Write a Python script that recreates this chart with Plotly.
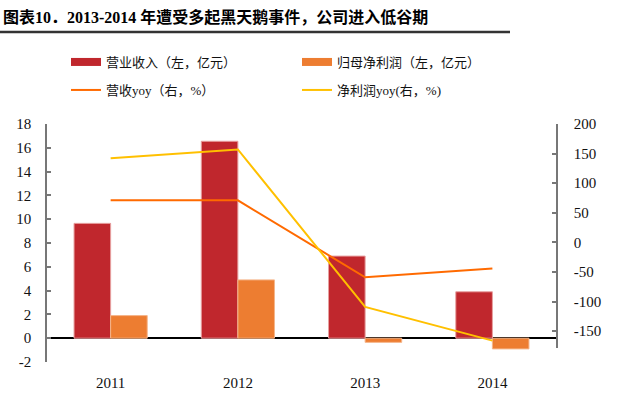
import plotly.graph_objects as go

years = ["2011", "2012", "2013", "2014"]
revenue = [9.65, 16.55, 6.9, 3.9]            # 营业收入 (亿元)
net_profit = [1.9, 4.9, -0.35, -0.9]         # 归母净利润 (亿元)
revenue_yoy = [71, 71, -59, -44]             # 营收yoy (%)
profit_yoy = [142, 157, -109, -166]          # 净利润yoy (%)
left_ticks = list(range(-2, 19, 2))
right_ticks = list(range(-150, 201, 50))

names = ["营业收入（左，亿元）", "归母净利润（左，亿元）", "营收yoy（右，%）", "净利润yoy(右，%)"]
c_rev, c_np, c_ryoy, c_pyoy = "#C0272D", "#ED7D31", "#FF6A00", "#FFC000"

W, H = 640, 407
L, R, T, B = 47, 84, 124, 45
PW, PH = W - L - R, H - T - B

def px_x(px):
    return (px - L) / PW

def px_y(py):
    return (H - B - py) / PH

serif = "Liberation Serif, Noto Sans CJK SC"

fig = go.Figure()
fig.add_trace(go.Bar(x=years, y=revenue, name=names[0], marker=dict(color=c_rev, line=dict(color="#E7A0A0", width=1)),
                     showlegend=False, yaxis="y"))
fig.add_trace(go.Bar(x=years, y=net_profit, name=names[1], marker=dict(color=c_np, line=dict(color="#F5B58A", width=1)),
                     showlegend=False, yaxis="y"))
fig.add_trace(go.Scatter(x=years, y=revenue_yoy, name=names[2], mode="lines", line=dict(color=c_ryoy, width=2),
                         yaxis="y2", showlegend=False))
fig.add_trace(go.Scatter(x=years, y=profit_yoy, name=names[3], mode="lines", line=dict(color=c_pyoy, width=2),
                         yaxis="y2", showlegend=False))

# legend entries
fig.add_trace(go.Scatter(x=[None], y=[None], mode="lines", name=names[0], line=dict(color=c_rev, width=8), legend="legend"))
fig.add_trace(go.Scatter(x=[None], y=[None], mode="lines", name=names[1], line=dict(color=c_np, width=8), legend="legend"))
fig.add_trace(go.Scatter(x=[None], y=[None], mode="lines", name=names[2], line=dict(color=c_ryoy, width=2), legend="legend2"))
fig.add_trace(go.Scatter(x=[None], y=[None], mode="lines", name=names[3], line=dict(color=c_pyoy, width=2), legend="legend2"))

leg_common = dict(orientation="h", xref="container", yref="container", xanchor="left", yanchor="middle",
                  entrywidth=186, entrywidthmode="pixels", font=dict(family=serif, size=13, color="#111"),
                  bgcolor="rgba(0,0,0,0)", itemclick=False, tracegroupgap=0)

fig.update_layout(
    width=W, height=H, margin=dict(l=L, r=R, t=T, b=B),
    paper_bgcolor="white", plot_bgcolor="rgba(0,0,0,0)",
    barmode="group", bargap=0.425, bargroupgap=0,
    showlegend=True,
    legend=dict(x=66 / W, y=1 - 62 / H, **leg_common),
    legend2=dict(x=66 / W, y=1 - 90 / H, **leg_common),
    xaxis=dict(type="category", showline=False, ticks="", showgrid=False, zeroline=False,
               tickfont=dict(family=serif, size=15, color="#111"), ticklabelstandoff=10, anchor="y"),
    yaxis=dict(range=[-2, 18], tickvals=left_ticks, ticktext=[str(v) for v in left_ticks],
               showgrid=False, showline=True, linecolor="#777", linewidth=1.5,
               ticks="inside", ticklen=4, tickcolor="#777", tickwidth=1.5,
               zeroline=True, zerolinecolor="#000", zerolinewidth=1.5,
               tickfont=dict(family=serif, size=15, color="#111"), ticklabelstandoff=11, anchor="x"),
    yaxis2=dict(range=[-178.5, 200], tickvals=right_ticks, ticktext=[str(v) for v in right_ticks],
                domain=[14 / PH, 1], side="right", anchor="x",
                showgrid=False, showline=True, linecolor="#777", linewidth=1.5, zeroline=False,
                ticks="inside", ticklen=4, tickcolor="#777", tickwidth=1.5,
                tickfont=dict(family=serif, size=15, color="#111"), ticklabelstandoff=13),
)

fig.add_annotation(x=px_x(1), y=px_y(17), xref="paper", yref="paper", xanchor="left", yanchor="middle",
                   text="<b>图表10．2013-2014 年遭受多起黑天鹅事件，公司进入低谷期</b>", showarrow=False,
                   font=dict(family=serif, size=16, color="#000"))
fig.add_shape(type="line", xref="paper", yref="paper", x0=px_x(0), x1=px_x(510), y0=px_y(32), y1=px_y(32),
              line=dict(color="#333", width=2.5))

fig.write_html("out.html", config={"displayModeBar": False},
               post_script="document.body.style.margin='0';")
